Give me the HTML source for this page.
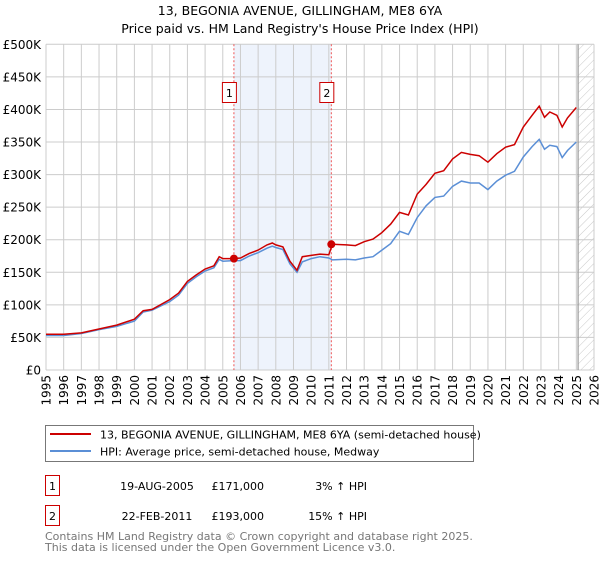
<!DOCTYPE html>
<html><head><meta charset="utf-8"><style>
body{margin:0;background:#fff;font-family:"DejaVu Sans","Liberation Sans",sans-serif;}
svg text{font-family:"DejaVu Sans","Liberation Sans",sans-serif;}
</style></head><body>
<svg id="chart" width="600" height="560" xmlns="http://www.w3.org/2000/svg">
<defs>
<pattern id="hatch" width="6" height="6" patternUnits="userSpaceOnUse" patternTransform="rotate(45)">
<line x1="0" y1="0" x2="0" y2="6" stroke="#bbb" stroke-width="0.8"/></pattern>
</defs>
<text x="300" y="15" text-anchor="middle" font-size="12.5">13, BEGONIA AVENUE, GILLINGHAM, ME8 6YA</text>
<text x="300" y="33" text-anchor="middle" font-size="12.5">Price paid vs. HM Land Registry's House Price Index (HPI)</text>
<g id="plot"></g>
<rect x="45.5" y="425.5" width="428" height="36" fill="#fff" stroke="#777"/>
<line x1="50" y1="434" x2="91" y2="434" stroke="#cc0000" stroke-width="2"/>
<text x="100" y="438.5" font-size="11">13, BEGONIA AVENUE, GILLINGHAM, ME8 6YA (semi-detached house)</text>
<line x1="50" y1="451" x2="91" y2="451" stroke="#5b8fd6" stroke-width="2"/>
<text x="100" y="455.5" font-size="11">HPI: Average price, semi-detached house, Medway</text>
<g font-size="11">
<rect x="45.5" y="475.5" width="14" height="20" fill="#fff" stroke="#cc0000"/>
<text x="52.5" y="490" text-anchor="middle">1</text>
<text x="157" y="490" text-anchor="middle">19-AUG-2005</text>
<text x="264" y="490" text-anchor="end">£171,000</text>
<text x="367" y="490" text-anchor="end">3% ↑ HPI</text>
</g>
<g font-size="11">
<rect x="45.5" y="505.5" width="14" height="20" fill="#fff" stroke="#cc0000"/>
<text x="52.5" y="520" text-anchor="middle">2</text>
<text x="157" y="520" text-anchor="middle">22-FEB-2011</text>
<text x="264" y="520" text-anchor="end">£193,000</text>
<text x="367" y="520" text-anchor="end">15% ↑ HPI</text>
</g>
<text x="45" y="540" font-size="11" fill="#777">Contains HM Land Registry data © Crown copyright and database right 2025.</text>
<text x="45" y="551" font-size="11" fill="#777">This data is licensed under the Open Government Licence v3.0.</text>
</svg>
<script>
const years=[1995,1996,1997,1998,1999,2000,2000.5,2001,2002,2002.5,2003,2003.5,2004,2004.5,2004.8,2005,2005.6,2006,2006.5,2007,2007.5,2007.8,2008,2008.4,2008.8,2009.2,2009.5,2010,2010.5,2011,2011.2,2012,2012.5,2013,2013.5,2014,2014.5,2015,2015.5,2016,2016.5,2017,2017.5,2018,2018.5,2019,2019.5,2020,2020.5,2021,2021.5,2022,2022.5,2022.9,2023.2,2023.5,2023.9,2024.2,2024.5,2025];
const hpiValues=[53,53,56,62,67,75,89,92,105,115,133,143,152,157,170,167,168,168,175,180,187,190,188,185,163,150,166,171,174,172,169,170,169,172,174,184,194,213,208,234,252,265,267,282,290,287,287,277,290,299,305,327,343,354,339,345,343,326,337,350];
const priceValues=[55,55,57,63,69,78,91,93,108,118,136,146,155,160,174,171,171,172,179,184,192,195,192,189,167,153,174,176,178,177,193,192,191,197,201,211,224,242,238,270,285,302,306,324,334,331,329,319,332,342,346,373,391,405,388,396,391,373,387,403];
const sales=[{n:"1",year:2005.63,value:171},{n:"2",year:2011.14,value:193}];
const yTicks=[0,50,100,150,200,250,300,350,400,450,500];
const yTickLabels=["£0","£50K","£100K","£150K","£200K","£250K","£300K","£350K","£400K","£450K","£500K"];
const xTicks=[];for(let y=1995;y<=2026;y++)xTicks.push(y);
const X0=46,X1=594,Y0=370,Y1=44.3;
const xs=y=>X0+(y-1995)/(2026-1995)*(X1-X0);
const ys=v=>Y0-v/500*(Y0-Y1);
const NS="http://www.w3.org/2000/svg";
const g=document.getElementById('plot');
function mk(t,a){const e=document.createElementNS(NS,t);for(const k in a)e.setAttribute(k,a[k]);g.appendChild(e);return e;}
let e;
e=mk('rect',{x:xs(sales[0].year),y:Y1,width:xs(sales[1].year)-xs(sales[0].year),height:Y0-Y1,fill:'#eef3fc'});


e=mk('rect',{x:xs(2025.1),y:Y1,width:X1-xs(2025.1),height:Y0-Y1,fill:'url(#hatch)'});


xTicks.forEach(t=>{
 e=mk('line',{x1:xs(t),x2:xs(t),y1:Y1,y2:Y0,stroke:'#ccc','stroke-width':1});
 
 
 e=mk('text',{x:0,y:0,'font-size':12,'text-anchor':'end',transform:`translate(${xs(t)+4.5},${Y0+5}) rotate(-90)`});
 e.textContent=t;
 
 
});
yTicks.forEach((t,i)=>{
 e=mk('line',{x1:X0,x2:X1,y1:ys(t),y2:ys(t),stroke:'#ccc','stroke-width':1});
 
 
 e=mk('text',{x:X0-5,y:ys(t)+4.5,'font-size':12,'text-anchor':'end'});
 e.textContent=yTickLabels[i];
 
 
});
e=mk('line',{x1:xs(2025.1),x2:xs(2025.1),y1:Y1,y2:Y0,stroke:'#999','stroke-width':1.2});


sales.forEach(s=>{
 e=mk('line',{x1:xs(s.year),x2:xs(s.year),y1:Y1,y2:Y0,stroke:'#ee5555','stroke-width':1,'stroke-dasharray':'2,2'});
 
 
 e=mk('rect',{x:xs(s.year)-11.5,y:82.5,width:14,height:20,fill:'#fff',stroke:'#cc0000'});
 
 
 e=mk('text',{x:xs(s.year)-4.5,y:97,'font-size':11,'text-anchor':'middle'});
 e.textContent=s.n;
 
 
});
const pts=a=>years.map((y,i)=>xs(y).toFixed(1)+','+ys(a[i]).toFixed(1)).join(' ');
e=mk('polyline',{points:pts(hpiValues),fill:'none',stroke:'#5b8fd6','stroke-width':1.5});


e=mk('polyline',{points:pts(priceValues),fill:'none',stroke:'#cc0000','stroke-width':1.5});


sales.forEach(s=>{
 e=mk('circle',{cx:xs(s.year),cy:ys(s.value),r:4,fill:'#cc0000'});
 
 
});
</script>
</body></html>
